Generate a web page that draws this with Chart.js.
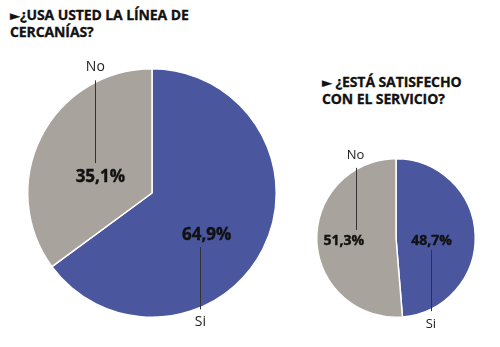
<!DOCTYPE html>
<html lang="es">
<head>
<meta charset="utf-8">
<script src="https://cdn.jsdelivr.net/npm/chart.js@4.4.1/dist/chart.umd.min.js"></script>
<style>
    html, body { margin: 0; padding: 0; background: #fff; }
    #wrap { position: relative; width: 500px; height: 347px; overflow: hidden; }
    canvas { position: absolute; }
    .titulo {
        position: absolute;
        font-family: "Open Sans", sans-serif;
        font-weight: 700;
        font-size: 14px;
        line-height: 16px;
        color: #111;
        white-space: nowrap;
        letter-spacing: -0.1px;
        -webkit-text-stroke: 0.3px #111;
    }
    .titulo .flecha { font-family: "DejaVu Sans", sans-serif; font-size: 13px; }
</style>
</head>
<body>
<div id="wrap">
    <div class="titulo" id="t1" style="left:10px; top:7px;"><span class="flecha">►</span>¿USA USTED LA LÍNEA DE<br>CERCANÍAS?</div>
    <div class="titulo" id="t2" style="left:322px; top:74px;"><span class="flecha">►</span> ¿ESTÁ SATISFECHO<br>CON EL SERVICIO?</div>
    <canvas id="grafUsa" width="300" height="307" style="left:0px; top:40px;"></canvas>
    <canvas id="grafSatisf" width="200" height="207" style="left:300px; top:140px;"></canvas>
</div>
<script>
"use strict"

// Datos de las encuestas
const categorias = ["Si", "No"];
const usaCercanias = [64.9, 35.1];
const satisfecho = [48.7, 51.3];
const colores = ["#4a579f", "#a8a39c"];

// Formatea un número como "64,9%"
function formatoPct(v) {
    return v.toFixed(1).replace(".", ",") + "%";
}

/**
 * Plugin que dibuja porcentajes, líneas guía y nombres de categoría
 */
const etiquetasPlugin = {
    id: "etiquetas",
    afterDatasetsDraw(chart, args, opts) {
        const ctx = chart.ctx;
        const meta = chart.getDatasetMeta(0);
        const valores = chart.data.datasets[0].data;

        meta.data.forEach((arc, i) => {
            const p = arc.getProps(["x", "y", "outerRadius"], true);
            const R = p.outerRadius;
            const pos = opts.posiciones[i];
            const tx = p.x + pos.pct[0] * R;
            const ty = p.y + pos.pct[1] * R;

            // Porcentaje
            ctx.save();
            ctx.fillStyle = "#111";
            ctx.strokeStyle = "#111";
            ctx.lineWidth = 0.4;
            ctx.font = "700 " + opts.tamPct + "px 'Open Sans', sans-serif";
            ctx.textAlign = "center";
            ctx.textBaseline = "middle";
            ctx.fillText(formatoPct(valores[i]), tx, ty + 1);
            ctx.strokeText(formatoPct(valores[i]), tx, ty + 1);

            // Línea guía vertical hasta el borde
            const lx = p.x + pos.linea * R;
            const dx = lx - p.x;
            const borde = Math.sqrt(Math.max(R * R - dx * dx, 0));
            const dir = pos.arriba ? -1 : 1;
            const yBorde = p.y + dir * borde;
            const yIni = ty + dir * opts.hueco;
            const yFin = yBorde + dir * 2;

            ctx.strokeStyle = "#333";
            ctx.lineWidth = 1;
            ctx.beginPath();
            ctx.moveTo(Math.round(lx) + 0.5, yIni);
            ctx.lineTo(Math.round(lx) + 0.5, yFin);
            ctx.stroke();

            // Nombre de la categoría
            ctx.fillStyle = "#222";
            ctx.font = "400 " + opts.tamNombre + "px 'Open Sans', sans-serif";
            ctx.fillText(chart.data.labels[i], lx, yBorde + dir * opts.sepNombre);
            ctx.restore();
        });
    }
};

function crearTorta(id, datos, padding, etiquetas) {
    const ctx = document.getElementById(id).getContext("2d");
    return new Chart(ctx, {
        type: "pie",
        data: {
            labels: categorias,
            datasets: [{
                data: datos,
                backgroundColor: colores,
                borderColor: "#ffffff",
                borderWidth: 1.5
            }]
        },
        options: {
            responsive: false,
            animation: false,
            layout: { padding: padding },
            plugins: {
                legend: { display: false },
                tooltip: { enabled: false },
                etiquetas: etiquetas
            }
        },
        plugins: [etiquetasPlugin]
    });
}

// Torta grande: ¿usa la línea de cercanías?
crearTorta("grafUsa", usaCercanias,
    { left: 27, right: 23, top: 28, bottom: 29 },
    {
        tamPct: 17,
        tamNombre: 14,
        hueco: 13,
        sepNombre: 15,
        posiciones: [
            { pct: [0.44, 0.33], linea: 0.39, arriba: false },
            { pct: [-0.416, -0.136], linea: -0.456, arriba: true }
        ]
    });

// Torta pequeña: ¿está satisfecho con el servicio?
crearTorta("grafSatisf", satisfecho,
    { left: 16, right: 24, top: 18, bottom: 29 },
    {
        tamPct: 14,
        tamNombre: 13,
        hueco: 10,
        sepNombre: 15,
        posiciones: [
            { pct: [0.45, 0.025], linea: 0.44, arriba: false },
            { pct: [-0.66, 0.025], linea: -0.51, arriba: true }
        ]
    });
</script>
</body>
</html>
